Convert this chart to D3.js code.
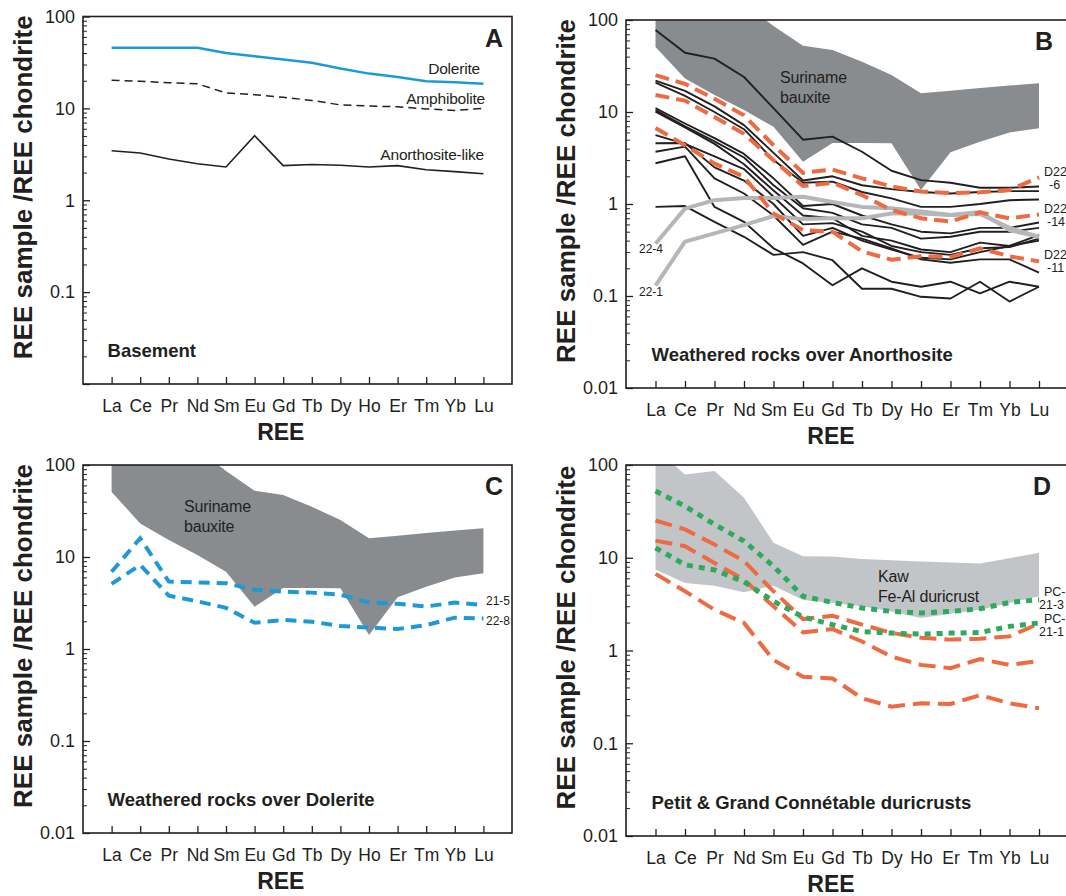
<!DOCTYPE html>
<html>
<head>
<meta charset="utf-8">
<script src="https://cdn.jsdelivr.net/npm/d3@7"></script>
<style>
  body { margin: 0; background: #fff; }
  svg { display: block; }
  text { font-family: "Liberation Sans", Arial, Helvetica, sans-serif; fill: #231f20; }
</style>
</head>
<body>
<svg id="chart" width="1066" height="896"></svg>
<script>
// ─── Data ───────────────────────────────────────────────────────────────────
const ree = ["La","Ce","Pr","Nd","Sm","Eu","Gd","Tb","Dy","Ho","Er","Tm","Yb","Lu"];
const yTickValues = [0.01, 0.1, 1, 10, 100];
const yTickLabels = ["0.01", "0.1", "1", "10", "100"];

// A) basement
const dolerite        = [45.6, 45.6, 45.6, 45.6, 40, 36.9, 34, 31.3, 27.1, 23.9, 22, 19.7, 19.2, 18.5];
const amphibolite     = [20.2, 19.7, 19.0, 18.5, 14.7, 14.1, 13.2, 12.2, 10.9, 10.6, 10.4, 9.86, 9.5, 10.0];
const anorthositeLike = [3.46, 3.27, 2.81, 2.5, 2.3, 5.05, 2.38, 2.45, 2.4, 2.3, 2.38, 2.15, 2.05, 1.94];

// Suriname bauxite envelope (B, C)
const surinameUpper = [200, 200, 200, 150, 86, 52.6, 47.2, 35.2, 25.2, 16, 17, 18.2, 19.4, 20.5];
const surinameLower = [51, 23.2, 15.3, 10.5, 6.9, 2.88, 4.6, 4.6, 4.57, 1.42, 3.65, 4.76, 6.0, 6.65];

// B) weathered rocks over anorthosite (black lines)
const anorthositeWeathered = [
  [78, 44, 38, 24, 11, 5.0, 5.4, 3.7, 2.3, 1.82, 1.7, 1.5, 1.5, 1.55],
  [21.9, 17, 11.5, 7.2, 3.6, 1.8, 2.0, 1.6, 1.45, 1.35, 1.3, 1.35, 1.38, 1.38],
  [20.8, 15, 10, 6.5, 3.0, 1.7, 1.75, 1.35, 1.15, 0.93, 0.93, 1.0, 1.1, 1.12],
  [11, 7.5, 5.2, 3.5, 1.9, 0.95, 1.0, 0.75, 0.6, 0.5, 0.48, 0.55, 0.55, 0.63],
  [10.5, 7, 4.8, 3.2, 1.6, 0.9, 0.8, 0.6, 0.55, 0.42, 0.44, 0.5, 0.5, 0.55],
  [10.1, 6.8, 4.5, 2.7, 1.4, 0.75, 0.7, 0.45, 0.4, 0.32, 0.3, 0.38, 0.35, 0.46],
  [5.6, 4.5, 3.3, 2.4, 1.2, 0.6, 0.62, 0.5, 0.35, 0.3, 0.28, 0.33, 0.34, 0.42],
  [4.57, 4.6, 2.5, 1.8, 1.0, 0.45, 0.55, 0.4, 0.32, 0.26, 0.25, 0.3, 0.35, 0.4],
  [3.7, 4.2, 1.9, 1.3, 0.75, 0.36, 0.5, 0.42, 0.33, 0.25, 0.23, 0.25, 0.25, 0.18],
  [0.93, 0.95, 0.64, 0.44, 0.28, 0.3, 0.245, 0.12, 0.12, 0.098, 0.094, 0.143, 0.087, 0.126],
  [2.77, 3.3, 0.93, 0.64, 0.33, 0.226, 0.131, 0.2, 0.143, 0.126, 0.143, 0.107, 0.143, 0.126]
];
const sample22_4 = [0.37, 0.89, 1.1, 1.16, 1.16, 1.2, 1.05, 0.93, 0.9, 0.83, 0.76, 0.78, 0.55, 0.44];
const sample22_1 = [0.13, 0.39, 0.48, 0.59, 0.74, 0.685, 0.7, 0.7, 0.79, 0.79, 0.76, 0.82, 0.52, 0.44];

// orange duricrust samples (B, D)
const d22_6  = [25.2, 20.2, 13.9, 9.2, 4.35, 2.18, 2.37, 1.9, 1.55, 1.37, 1.31, 1.34, 1.42, 1.95];
const d22_14 = [15.3, 13.3, 8.8, 5.8, 2.99, 1.57, 1.7, 1.25, 0.86, 0.7, 0.645, 0.81, 0.7, 0.77];
const d22_11 = [6.7, 4.35, 2.75, 1.98, 0.79, 0.52, 0.50, 0.306, 0.248, 0.27, 0.265, 0.33, 0.27, 0.238];

// C) weathered rocks over dolerite
const sample21_5 = [6.9, 16.0, 5.4, 5.3, 5.2, 4.4, 4.2, 4.1, 3.9, 3.2, 3.1, 2.9, 3.2, 3.0];
const sample22_8 = [5.1, 8.2, 3.8, 3.3, 2.8, 1.93, 2.07, 1.98, 1.78, 1.71, 1.65, 1.82, 2.19, 2.15];

// D) Kaw envelope + PC samples
const kawUpper = [150, 79, 86, 44.4, 14.5, 10.4, 10.3, 9.7, 9.4, 9.1, 8.9, 8.65, 9.9, 11.3];
const kawLower = [7.45, 5.35, 5.0, 4.24, 5.0, 3.5, 3.25, 3.0, 2.64, 2.24, 2.49, 2.75, 3.25, 3.84];
const pc21_3 = [52.4, 36, 22.9, 15.1, 8.1, 3.84, 3.3, 2.87, 2.64, 2.54, 2.64, 2.82, 3.3, 3.53];
const pc21_1 = [12.8, 8.4, 7.4, 5.5, 3.4, 2.3, 1.9, 1.6, 1.54, 1.5, 1.54, 1.56, 1.82, 1.98];

// ─── Colours ────────────────────────────────────────────────────────────────
const ink      = "#231f20";
const blue     = "#1d9ad6";
const orange   = "#ee6a40";
const green    = "#2eaa5c";
const darkGray = "#898c8f";
const lightGray= "#c2c5c7";
const lineGray = "#b3b7ba";

const svg = d3.select("#chart");

// ─── Panel builder ──────────────────────────────────────────────────────────
function panel(p) {
  const x = d3.scalePoint().domain(ree).range([p.left, p.right]).padding(1);
  const y = d3.scaleLog().domain([0.01, 100]).range([p.bottom, p.top]);

  svg.append("clipPath").attr("id", "clip-" + p.id)
    .append("rect")
      .attr("x", p.left).attr("y", p.top)
      .attr("width", p.right - p.left).attr("height", p.bottom - p.top);

  const g = svg.append("g");
  const plot = g.append("g").attr("clip-path", `url(#clip-${p.id})`);

  const line = d3.line().x((d, i) => x(ree[i])).y(d => y(d));
  const band = (upper, lower) => d3.area()
    .x((d, i) => x(ree[i]))
    .y0((d, i) => y(lower[i]))
    .y1(d => y(d))(upper);

  // minor y ticks
  const minor = [];
  for (let e = -2; e < 2; e++) for (let m = 2; m <= 9; m++) minor.push(m * Math.pow(10, e));
  g.append("g")
    .attr("transform", `translate(${p.left},0)`)
    .call(d3.axisLeft(y).tickValues(minor).tickSize(-4).tickFormat(""))
    .call(a => a.select(".domain").remove())
    .call(a => a.selectAll("line").attr("stroke", ink).attr("stroke-width", 1));

  // major y ticks + labels
  const yAx = g.append("g")
    .attr("transform", `translate(${p.left},0)`)
    .call(d3.axisLeft(y).tickValues(yTickValues).tickSize(-7).tickPadding(8)
      .tickFormat((d, i) => (p.hideMin && i === 0) ? "" : yTickLabels[i]));
  yAx.select(".domain").remove();
  yAx.selectAll("line").attr("stroke", ink).attr("stroke-width", 1.3);
  yAx.selectAll("text").attr("font-size", 18).attr("fill", ink)
    .attr("font-family", '"Liberation Sans", Arial, sans-serif');

  // x ticks + labels
  const xAx = g.append("g")
    .attr("transform", `translate(0,${p.bottom})`)
    .call(d3.axisBottom(x).tickSize(-7).tickPadding(16));
  xAx.select(".domain").remove();
  xAx.selectAll("line").attr("stroke", ink).attr("stroke-width", 1.3);
  xAx.selectAll("text").attr("font-size", 17.5).attr("fill", ink)
    .attr("font-family", '"Liberation Sans", Arial, sans-serif');

  // frame
  g.append("rect")
    .attr("x", p.left).attr("y", p.top)
    .attr("width", p.frameRight - p.left).attr("height", p.bottom - p.top)
    .attr("fill", "none").attr("stroke", ink).attr("stroke-width", 1.6);

  // axis titles
  g.append("text")
    .attr("transform", `translate(${p.left - 51},${(p.top + p.bottom) / 2 - 13}) rotate(-90)`)
    .attr("text-anchor", "middle")
    .attr("font-size", 26).attr("font-weight", "bold")
    .text("REE sample /REE chondrite");
  g.append("text")
    .attr("x", x("Tb") - 31).attr("y", p.bottom + 56)
    .attr("text-anchor", "middle")
    .attr("font-size", 23).attr("font-weight", "bold")
    .text("REE");

  // panel letter
  g.append("text")
    .attr("x", p.letterX).attr("y", p.top + 30)
    .attr("text-anchor", "end")
    .attr("font-size", 25).attr("font-weight", "bold")
    .text(p.letter);

  // caption
  g.append("text")
    .attr("x", x("La") - 4).attr("y", p.bottom - 27)
    .attr("font-size", 18.5).attr("font-weight", "bold")
    .text(p.caption);

  return { x, y, plot, g, line, band };
}

function label(g, xp, yp, txt, size, anchor) {
  g.append("text")
    .attr("x", xp).attr("y", yp)
    .attr("text-anchor", anchor || "start")
    .attr("font-size", size)
    .attr("letter-spacing", size > 14 ? -0.2 : 0)
    .text(txt);
}

// ─── Panel A ────────────────────────────────────────────────────────────────
{
  const P = panel({ id: "A", left: 83, right: 512, frameRight: 512, top: 16.5, bottom: 384,
                    letter: "A", letterX: 503, caption: "Basement", hideMin: true });
  P.plot.append("path").datum(dolerite).attr("d", P.line)
    .attr("fill", "none").attr("stroke", blue).attr("stroke-width", 2.5);
  P.plot.append("path").datum(amphibolite).attr("d", P.line)
    .attr("fill", "none").attr("stroke", ink).attr("stroke-width", 1.5)
    .attr("stroke-dasharray", "8,5");
  P.plot.append("path").datum(anorthositeLike).attr("d", P.line)
    .attr("fill", "none").attr("stroke", ink).attr("stroke-width", 1.6);
  label(P.g, 480, 74, "Dolerite", 15.5, "end");
  label(P.g, 485, 104, "Amphibolite", 15.5, "end");
  label(P.g, 484, 160, "Anorthosite-like", 15.5, "end");
}

// ─── Panel B ────────────────────────────────────────────────────────────────
{
  const P = panel({ id: "B", left: 626, right: 1068.5, frameRight: 1075, top: 20, bottom: 388,
                    letter: "B", letterX: 1053, caption: "Weathered rocks over Anorthosite" });
  P.plot.append("path").attr("d", P.band(surinameUpper, surinameLower)).attr("fill", darkGray);
  label(P.g, 780, 83, "Suriname", 16);
  label(P.g, 780, 103, "bauxite", 16);
  anorthositeWeathered.forEach(s => {
    P.plot.append("path").datum(s).attr("d", P.line)
      .attr("fill", "none").attr("stroke", ink).attr("stroke-width", 1.9)
      .attr("stroke-linejoin", "round");
  });
  [sample22_4, sample22_1].forEach(s => {
    P.plot.append("path").datum(s).attr("d", P.line)
      .attr("fill", "none").attr("stroke", lineGray).attr("stroke-width", 4)
      .attr("stroke-linejoin", "round");
  });
  [d22_6, d22_14, d22_11].forEach(s => {
    P.plot.append("path").datum(s).attr("d", P.line)
      .attr("fill", "none").attr("stroke", orange).attr("stroke-width", 4)
      .attr("stroke-dasharray", "14,7");
  });
  label(P.g, 639, 253, "22-4", 12);
  label(P.g, 639, 296, "22-1", 12);
  label(P.g, 1044, 176, "D22", 12.5);
  label(P.g, 1049, 189, "-6", 12.5);
  label(P.g, 1044, 213, "D22", 12.5);
  label(P.g, 1047, 226, "-14", 12.5);
  label(P.g, 1044, 259, "D22", 12.5);
  label(P.g, 1047, 272, "-11", 12.5);
}

// ─── Panel C ────────────────────────────────────────────────────────────────
{
  const P = panel({ id: "C", left: 83, right: 512, frameRight: 512, top: 465, bottom: 833,
                    letter: "C", letterX: 503, caption: "Weathered rocks over Dolerite" });
  P.plot.append("path").attr("d", P.band(surinameUpper, surinameLower)).attr("fill", darkGray);
  label(P.g, 184, 512, "Suriname", 16);
  label(P.g, 184, 532, "bauxite", 16);
  [sample21_5, sample22_8].forEach(s => {
    P.plot.append("path").datum(s).attr("d", P.line)
      .attr("fill", "none").attr("stroke", blue).attr("stroke-width", 4)
      .attr("stroke-dasharray", "11,7");
  });
  label(P.g, 486, 605, "21-5", 12);
  label(P.g, 486, 625, "22-8", 12);
}

// ─── Panel D ────────────────────────────────────────────────────────────────
{
  const P = panel({ id: "D", left: 626, right: 1068.5, frameRight: 1075, top: 465, bottom: 836,
                    letter: "D", letterX: 1051, caption: "Petit & Grand Connétable duricrusts" });
  P.plot.append("path").attr("d", P.band(kawUpper, kawLower)).attr("fill", lightGray);
  label(P.g, 878, 582, "Kaw", 16);
  label(P.g, 878, 602, "Fe-Al duricrust", 16);
  [d22_6, d22_14, d22_11].forEach(s => {
    P.plot.append("path").datum(s).attr("d", P.line)
      .attr("fill", "none").attr("stroke", orange).attr("stroke-width", 4)
      .attr("stroke-dasharray", "17,8");
  });
  [pc21_3, pc21_1].forEach(s => {
    P.plot.append("path").datum(s).attr("d", P.line)
      .attr("fill", "none").attr("stroke", green).attr("stroke-width", 5)
      .attr("stroke-dasharray", "6,6");
  });
  label(P.g, 1044, 596, "PC-", 12.5);
  label(P.g, 1039, 609, "21-3", 12.5);
  label(P.g, 1044, 623, "PC-", 12.5);
  label(P.g, 1039, 636, "21-1", 12.5);
}
</script>
</body>
</html>
